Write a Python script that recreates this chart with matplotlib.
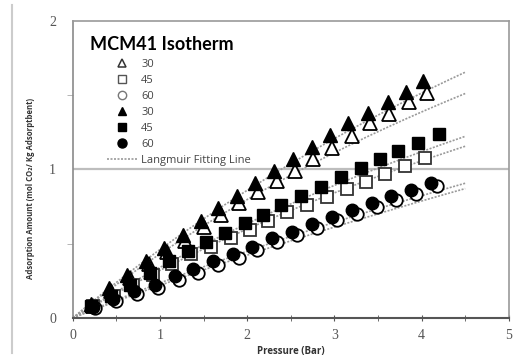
import numpy as np
import matplotlib
matplotlib.use("Agg")
import matplotlib.pyplot as plt
from matplotlib.lines import Line2D

# --- datos medidos (presión en bar, adsorción en mol CO2 / kg) ---
p30_abierto = [0.23, 0.44, 0.65, 0.87, 1.08, 1.29, 1.50, 1.70, 1.91, 2.12,
               2.34, 2.55, 2.76, 2.97, 3.20, 3.41, 3.63, 3.85, 4.06]
q30_abierto = [0.08, 0.18, 0.27, 0.36, 0.44, 0.52, 0.61, 0.69, 0.77, 0.85,
               0.92, 0.99, 1.07, 1.145, 1.22, 1.31, 1.37, 1.45, 1.51]

p45_abierto = [0.23, 0.47, 0.69, 0.92, 1.14, 1.36, 1.58, 1.81, 2.03, 2.24,
               2.46, 2.69, 2.91, 3.14, 3.36, 3.58, 3.81, 4.04]
q45_abierto = [0.08, 0.15, 0.22, 0.29, 0.36, 0.43, 0.48, 0.54, 0.59, 0.65,
               0.71, 0.76, 0.81, 0.87, 0.915, 0.97, 1.02, 1.076]

p60_abierto = [0.25, 0.49, 0.74, 0.98, 1.22, 1.44, 1.67, 1.90, 2.11, 2.34,
               2.57, 2.80, 3.03, 3.26, 3.49, 3.71, 3.94, 4.18]
q60_abierto = [0.065, 0.115, 0.16, 0.20, 0.255, 0.305, 0.355, 0.40, 0.455, 0.51,
               0.555, 0.605, 0.655, 0.70, 0.745, 0.79, 0.835, 0.888]

p30_lleno = [0.21, 0.42, 0.62, 0.84, 1.05, 1.26, 1.47, 1.67, 1.88, 2.09,
             2.31, 2.52, 2.74, 2.95, 3.16, 3.39, 3.61, 3.82, 4.02]
q30_lleno = [0.09, 0.20, 0.29, 0.38, 0.47, 0.56, 0.65, 0.74, 0.82, 0.91,
             0.99, 1.07, 1.15, 1.23, 1.31, 1.38, 1.45, 1.52, 1.59]

p45_lleno = [0.21, 0.44, 0.65, 0.88, 1.10, 1.32, 1.53, 1.75, 1.97, 2.18,
             2.39, 2.62, 2.85, 3.08, 3.30, 3.52, 3.73, 3.96, 4.20]
q45_lleno = [0.08, 0.15, 0.22, 0.30, 0.38, 0.45, 0.51, 0.57, 0.64, 0.69,
             0.76, 0.82, 0.88, 0.945, 1.005, 1.067, 1.123, 1.177, 1.235]

p60_lleno = [0.23, 0.46, 0.70, 0.94, 1.17, 1.38, 1.61, 1.84, 2.05, 2.28,
             2.51, 2.74, 2.97, 3.20, 3.43, 3.65, 3.88, 4.11]
q60_lleno = [0.076, 0.13, 0.18, 0.22, 0.28, 0.33, 0.38, 0.43, 0.48, 0.54,
             0.58, 0.63, 0.68, 0.725, 0.77, 0.82, 0.86, 0.91]

etiquetas = ["30", "45", "60", "30", "45", "60"]

# parámetros de Langmuir ajustados: q = qm*b*P / (1 + b*P)
qm_langmuir = [6.36, 5.32, 4.70, 4.53, 4.93, 5.70]
b_langmuir = [0.078, 0.088, 0.078, 0.076, 0.050, 0.040]
p_max_ajuste = 4.5

plt.rcParams['font.family'] = ['Open Sans', 'DejaVu Sans']

fig = plt.figure(figsize=(5.24, 3.6), dpi=100)
ax = fig.add_axes([0.139, 0.117, 0.832, 0.826])

# líneas de ajuste de Langmuir
p_ajuste = np.linspace(0, p_max_ajuste, 200)
for qm, b in zip(qm_langmuir, b_langmuir):
    ax.plot(p_ajuste, qm * b * p_ajuste / (1 + b * p_ajuste),
            color='#9a9a9a', lw=1.2, ls=(0, (1.2, 0.9)), zorder=2)

# series con símbolos vacíos
ax.plot(p30_abierto, q30_abierto, ls='none', marker='^', ms=10,
        mfc='white', mec='black', mew=1.3, zorder=3)
ax.plot(p45_abierto, q45_abierto, ls='none', marker='s', ms=8.5,
        mfc='white', mec='#333333', mew=1.3, zorder=3)
ax.plot(p60_abierto, q60_abierto, ls='none', marker='o', ms=9,
        mfc='white', mec='black', mew=1.3, zorder=3)

# series con símbolos rellenos
ax.plot(p30_lleno, q30_lleno, ls='none', marker='^', ms=10,
        mfc='black', mec='black', zorder=4)
ax.plot(p45_lleno, q45_lleno, ls='none', marker='s', ms=9,
        mfc='black', mec='black', zorder=4)
ax.plot(p60_lleno, q60_lleno, ls='none', marker='o', ms=9,
        mfc='black', mec='black', zorder=4)

# ejes
ax.set_xlim(0, 5)
ax.set_ylim(0, 2)
ax.set_xticks([0, 1, 2, 3, 4, 5])
ax.set_xticks(np.arange(0.5, 5, 1.0), minor=True)
ax.set_yticks([0, 1, 2])
ax.set_yticks([0.5, 1.5], minor=True)
ax.axhline(1, color='#bdbdbd', lw=1.6, zorder=1)

for lado in ['top', 'right']:
    ax.spines[lado].set_color('#9a9a9a')
    ax.spines[lado].set_linewidth(1.2)
ax.spines['left'].set_color('#8a8a8a')
ax.spines['left'].set_linewidth(1.2)
ax.spines['bottom'].set_color('#555555')
ax.spines['bottom'].set_linewidth(1.5)

ax.tick_params(axis='x', which='both', direction='inout', length=4,
               color='#555555', pad=6)
ax.tick_params(axis='y', which='major', length=0, pad=12)
ax.tick_params(axis='y', which='minor', length=4, color='#aaaaaa')
for t in ax.get_xticklabels() + ax.get_yticklabels():
    t.set_family('Liberation Serif')
    t.set_fontsize(10)
    t.set_color('#555555')

ax.set_xlabel('Pressure (Bar)', fontsize=7, fontweight='bold',
              color='#333333', labelpad=3)
ax.set_ylabel('Adsorption Amount (mol CO₂/ Kg Adsorptbent)', fontsize=5.6,
              fontweight='bold', color='#333333')
ax.yaxis.set_label_coords(-0.087, 0.436)

# título dentro del gráfico
ax.text(0.04, 0.92, 'MCM41 Isotherm', transform=ax.transAxes,
        family=['Lato', 'DejaVu Sans'], fontsize=13, fontweight='bold',
        color='black', va='center', ha='left')

# leyenda
manejadores = [
    Line2D([], [], ls='none', marker='^', ms=6, mfc='white', mec='#333333', mew=1.1),
    Line2D([], [], ls='none', marker='s', ms=5.5, mfc='white', mec='#555555', mew=1.0),
    Line2D([], [], ls='none', marker='o', ms=6, mfc='white', mec='#777777', mew=1.0),
    Line2D([], [], ls='none', marker='^', ms=6, mfc='black', mec='black'),
    Line2D([], [], ls='none', marker='s', ms=5.5, mfc='black', mec='black'),
    Line2D([], [], ls='none', marker='o', ms=6.5, mfc='black', mec='black'),
    Line2D([], [], color='#9a9a9a', lw=1.2, ls=(0, (1.2, 0.9))),
]
ley = ax.legend(manejadores, etiquetas + ['Langmuir Fitting Line'],
                loc='upper left', bbox_to_anchor=(0.078, 0.87), frameon=False,
                fontsize=8, handlelength=2.7, handletextpad=0.4,
                labelspacing=0.45, borderaxespad=0, borderpad=0)
for t in ley.get_texts():
    t.set_color('#444444')

# borde izquierdo del área del gráfico
fig.add_artist(Line2D([12 / 524, 12 / 524], [0.02, 0.985],
                      color='#cccccc', lw=1.5, transform=fig.transFigure))

fig.savefig('out.png', dpi=100)
